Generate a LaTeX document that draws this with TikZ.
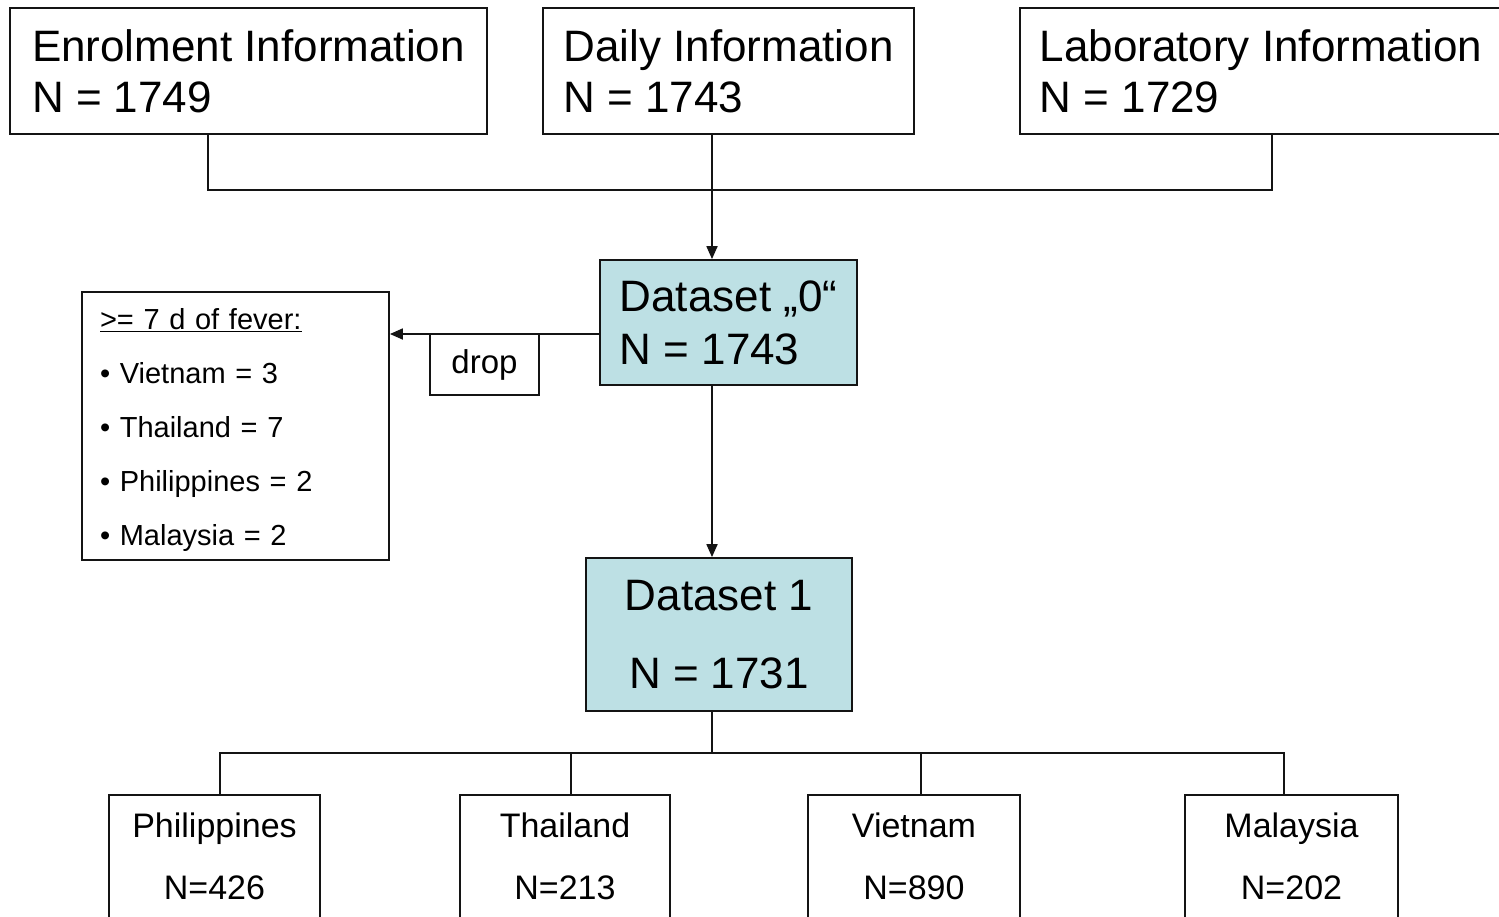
\documentclass[tikz,border=0pt]{standalone}
\usepackage{fontspec}
\setmainfont{Liberation Sans}
\usetikzlibrary{arrows.meta}
\definecolor{dsfill}{RGB}{189,224,228}
\definecolor{ink}{RGB}{20,20,20}
\begin{document}
\begin{tikzpicture}[x=1pt,y=-1pt,
  box/.style={draw=ink, line width=1.8pt, inner sep=0pt, align=left},
  srcbox/.style={box, minimum height=126, font=\fontsize{44}{51}\selectfont},
  dsbox/.style={box, fill=dsfill, font=\fontsize{44}{53}\selectfont},
  listbox/.style={box, text width=271pt, font=\fontsize{29}{54}\selectfont},
  dropbox/.style={box, align=center, font=\fontsize{33}{40}\selectfont},
  sitebox/.style={box, align=center, minimum height=123, font=\fontsize{34}{62}\selectfont},
  link/.style={draw=ink, line width=1.8pt},
  arrow/.style={link, -{Triangle[length=13pt,width=11pt]}}
]
\fill[white] (0,0) rectangle (1499,916);
\useasboundingbox (0,0) rectangle (1499,916);
\clip (0,0) rectangle (1499,916);

% source tables
\node[srcbox, minimum width=477] (enrol) at (248.5,71) {Enrolment Information\\N = 1749};
\node[srcbox, minimum width=371] (daily) at (728.5,71) {Daily Information\\N = 1743};
\node[srcbox, minimum width=482] (lab) at (1261,71) {Laboratory Information\\N = 1729};

% merged datasets
\node[dsbox, minimum width=257, minimum height=125] (ds0) at (728.5,322.5) {Dataset „0“\\N = 1743};
\node[dsbox, align=center, font=\fontsize{44}{78}\selectfont, minimum width=266, minimum height=153] (ds1) at (719,634.5) {Dataset 1\\N = 1731};

% exclusions
\node[listbox, minimum width=307, minimum height=268] (fever) at (235.5,426)
  {\rule{0pt}{29pt}\underline{>= 7 d of fever:}\\• Vietnam = 3\\• Thailand = 7\\• Philippines = 2\\• Malaysia = 2};
\node[dropbox, minimum width=109, minimum height=61] (drop) at (484.5,364.5) {drop};

% per-country subsets
\node[sitebox, minimum width=211] (phil) at (214.5,856.5) {Philippines\\N=426};
\node[sitebox, minimum width=210] (thai) at (565,856.5) {Thailand\\N=213};
\node[sitebox, minimum width=212] (viet) at (914,856.5) {Vietnam\\N=890};
\node[sitebox, minimum width=213] (mala) at (1291.5,856.5) {Malaysia\\N=202};

% merge of the three sources
\coordinate (hub) at (712,190);
\draw[link] ([xshift=-40.5pt]enrol.south) |- (hub);
\draw[link] ([xshift=11pt]lab.south) |- (hub);
\draw[arrow] (daily.south -| hub) -- (ds0.north -| hub);

% exclusion of long fever cases
\draw[arrow] ([yshift=-11.5pt]ds0.west) coordinate (dropsrc) -- (fever.east |- dropsrc);
\draw[arrow] (ds0.south -| hub) -- (ds1.north -| hub);

% split by country
\coordinate (split) at (712,753);
\draw[link] (ds1.south -| split) -- (split);
\draw[link] ([xshift=5.5pt]phil.north) |- (split);
\draw[link] ([xshift=6pt]thai.north) |- (split);
\draw[link] ([xshift=7pt]viet.north) |- (split);
\draw[link] ([xshift=-7.5pt]mala.north) |- (split);
\end{tikzpicture}
\end{document}
